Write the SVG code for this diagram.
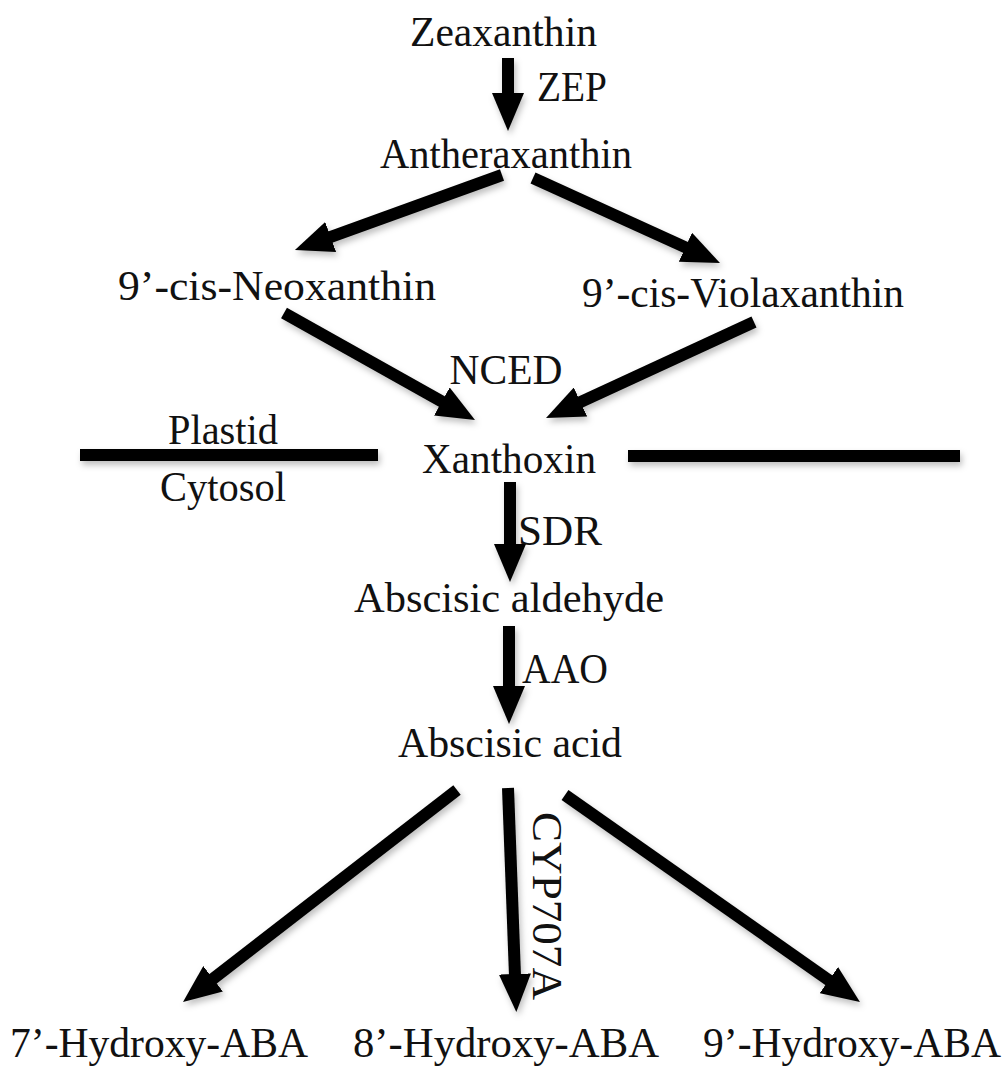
<svg xmlns="http://www.w3.org/2000/svg" width="1005" height="1068" viewBox="0 0 1005 1068">
<defs>
<style>
text{font-family:"Liberation Serif","Times New Roman",serif;font-size:43px;fill:#111;}
.c{text-anchor:middle;}
.a{stroke:#000;stroke-width:12;fill:none;marker-end:url(#ah);}
.bar{stroke:#000;stroke-width:12;}
</style>
<marker id="ah" markerUnits="userSpaceOnUse" viewBox="0 0 38 32" markerWidth="38" markerHeight="32" refX="2" refY="16" orient="auto">
<path d="M0,0 L38,16 L0,32 z" fill="#000"/>
</marker>
<filter id="sh" filterUnits="userSpaceOnUse" x="0" y="0" width="1005" height="1068">
<feDropShadow dx="2" dy="4" stdDeviation="3" flood-color="#000" flood-opacity="0.25"/>
</filter>
</defs>
<rect width="1005" height="1068" fill="#fff"/>
<g id="connectors" filter="url(#sh)">
<line class="a" x1="508" y1="58" x2="508" y2="95"/>
<line class="a" x1="502" y1="175" x2="328.8" y2="237.7"/>
<line class="a" x1="533" y1="178" x2="687.2" y2="248.1"/>
<line class="a" x1="284" y1="313" x2="443.6" y2="402.4"/>
<line class="a" x1="754" y1="322" x2="578.7" y2="402.9"/>
<line class="a" x1="510" y1="482" x2="510" y2="546"/>
<line class="a" x1="509" y1="626" x2="509" y2="688"/>
<line class="a" x1="457" y1="790" x2="211.5" y2="980"/>
<line class="a" x1="508" y1="788" x2="515" y2="976"/>
<line class="a" x1="565" y1="795" x2="830.5" y2="981.3"/>
</g>
<g id="membrane" filter="url(#sh)">
<line class="bar" x1="80" y1="455" x2="378" y2="455"/>
<line class="bar" x1="628" y1="456" x2="960" y2="456"/>
</g>
<g id="zeaxanthin"><text class="c" x="503.5" y="46" textLength="187" lengthAdjust="spacingAndGlyphs">Zeaxanthin</text></g>
<g id="zep"><text x="537" y="101" textLength="70" lengthAdjust="spacingAndGlyphs">ZEP</text></g>
<g id="antheraxanthin"><text class="c" x="506" y="168" textLength="252" lengthAdjust="spacingAndGlyphs">Antheraxanthin</text></g>
<g id="neoxanthin"><text class="c" x="277" y="300" textLength="318" lengthAdjust="spacingAndGlyphs">9’-cis-Neoxanthin</text></g>
<g id="violaxanthin"><text class="c" x="743" y="307" textLength="322" lengthAdjust="spacingAndGlyphs">9’-cis-Violaxanthin</text></g>
<g id="nced"><text class="c" x="506" y="384" textLength="113" lengthAdjust="spacingAndGlyphs">NCED</text></g>
<g id="plastid"><text class="c" x="223" y="444" textLength="110" lengthAdjust="spacingAndGlyphs">Plastid</text></g>
<g id="xanthoxin"><text class="c" x="509" y="473" textLength="174" lengthAdjust="spacingAndGlyphs">Xanthoxin</text></g>
<g id="cytosol"><text class="c" x="223" y="501" textLength="126" lengthAdjust="spacingAndGlyphs">Cytosol</text></g>
<g id="sdr"><text x="518" y="545" textLength="84" lengthAdjust="spacingAndGlyphs">SDR</text></g>
<g id="abscisic-aldehyde"><text class="c" x="509" y="612" textLength="310" lengthAdjust="spacingAndGlyphs">Abscisic aldehyde</text></g>
<g id="aao"><text x="522" y="683" textLength="86" lengthAdjust="spacingAndGlyphs">AAO</text></g>
<g id="abscisic-acid"><text class="c" x="510" y="757" textLength="224" lengthAdjust="spacingAndGlyphs">Abscisic acid</text></g>
<g id="cyp707a"><text class="c" x="533" y="906" transform="rotate(90 533 906)" textLength="188" lengthAdjust="spacingAndGlyphs">CYP707A</text></g>
<g id="hydroxy7"><text class="c" x="159" y="1057" style="font-size:42px" textLength="298" lengthAdjust="spacingAndGlyphs">7’-Hydroxy-ABA</text></g>
<g id="hydroxy8"><text class="c" x="506" y="1057" style="font-size:42px" textLength="306" lengthAdjust="spacingAndGlyphs">8’-Hydroxy-ABA</text></g>
<g id="hydroxy9"><text class="c" x="852" y="1057" style="font-size:42px" textLength="298" lengthAdjust="spacingAndGlyphs">9’-Hydroxy-ABA</text></g>
</svg>
